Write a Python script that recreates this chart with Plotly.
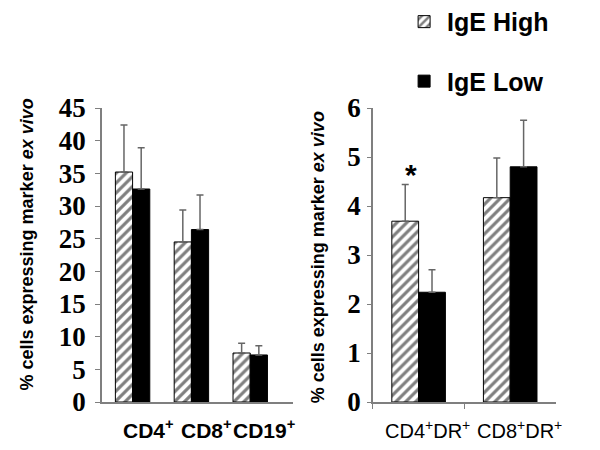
import plotly.graph_objects as go

# ---- data ----
left_categories = ["CD4+", "CD8+", "CD19+"]
left_labels = ["CD4<sup>+</sup>", "CD8<sup>+</sup>", "CD19<sup>+</sup>"]
left_high = [35.2, 24.5, 7.5]
left_high_err = [7.2, 4.9, 1.5]
left_low = [32.6, 26.4, 7.2]
left_low_err = [6.3, 5.3, 1.4]

right_categories = ["CD4+DR+", "CD8+DR+"]
right_labels = ["CD4<sup>+</sup>DR<sup>+</sup>", "CD8<sup>+</sup>DR<sup>+</sup>"]
right_high = [3.69, 4.17]
right_high_err = [0.75, 0.81]
right_low = [2.24, 4.80]
right_low_err = [0.46, 0.95]

left_ticks = [0, 5, 10, 15, 20, 25, 30, 35, 40, 45]
right_ticks = [0, 1, 2, 3, 4, 5, 6]

series_names = ["IgE High", "IgE Low"]
y_title = "% cells expressing marker <i>ex vivo</i>"

SANS = "Liberation Sans, Arial, sans-serif"
SERIF = "Liberation Serif, Times New Roman, serif"
AXC = "#7f7f7f"

hatch = dict(color="white", line=dict(color="black", width=1),
             pattern=dict(shape="/", fgcolor="black", bgcolor="white", size=7, solidity=0.45))
solid = dict(color="black", line=dict(color="black", width=1))


def err(vals):
    return dict(type="data", array=vals, arrayminus=[0] * len(vals), symmetric=False,
                color="#666666", thickness=1.5, width=3.5)


fig = go.Figure()
fig.add_trace(go.Bar(x=left_categories, y=left_high, error_y=err(left_high_err), marker=hatch,
                     name=series_names[0], legendgroup="high", showlegend=True, xaxis="x", yaxis="y"))
fig.add_trace(go.Bar(x=left_categories, y=left_low, error_y=err(left_low_err), marker=solid,
                     name=series_names[1], legendgroup="low", showlegend=True, xaxis="x", yaxis="y"))
fig.add_trace(go.Bar(x=right_categories, y=right_high, error_y=err(right_high_err), marker=hatch,
                     name=series_names[0], legendgroup="high", showlegend=False, xaxis="x2", yaxis="y2"))
fig.add_trace(go.Bar(x=right_categories, y=right_low, error_y=err(right_low_err), marker=solid,
                     name=series_names[1], legendgroup="low", showlegend=False, xaxis="x2", yaxis="y2"))

# page body has an 8px margin: target pixel positions are in viewport coordinates
OFF = 8
VL, VR, VT, VB = 101.7, 556, 108, 401.7  # plot area in viewport pixels
ML = VL - OFF
MT = VT - OFF
MR = 600 - (VR - OFF)
MB = 450 - (VB - OFF)
PW = 600 - ML - MR
PH = 450 - MT - MB

def px_x(p):
    return (p - OFF - ML) / PW

def px_y(p):
    return (450 - MB - (p - OFF)) / PH

left_shifts = [16, 15, 14]
annotations = []
for cat, lab, sh in zip(left_categories, left_labels, left_shifts):
    annotations.append(dict(x=cat, xref="x", y=0, yref="paper", yanchor="middle", yshift=-27,
                            xshift=sh, text=lab, showarrow=False,
                            font=dict(family=SANS, size=21, color="black", weight="bold")))
for cat, lab in zip(right_categories, right_labels):
    annotations.append(dict(x=cat, xref="x2", y=0, yref="paper", yanchor="middle", yshift=-27,
                            xshift=9, text=lab, showarrow=False,
                            font=dict(family=SANS, size=20, color="black")))
annotations.append(dict(x=px_x(27), xref="paper", y=px_y(244), yref="paper", text=y_title,
                        textangle=-90, showarrow=False, xanchor="center", yanchor="middle",
                        font=dict(family=SANS, size=18, color="black", weight="bold")))
annotations.append(dict(x=px_x(318), xref="paper", y=px_y(257), yref="paper", text=y_title,
                        textangle=-90, showarrow=False, xanchor="center", yanchor="middle",
                        font=dict(family=SANS, size=18, color="black", weight="bold")))
annotations.append(dict(x=right_categories[0], xref="x2", y=4.75, yref="y2", text="*",
                        xshift=-8, yshift=-5, showarrow=False, yanchor="middle",
                        font=dict(family=SANS, size=30, color="black", weight="bold")))

fig.update_layout(
    width=600, height=450,
    margin=dict(l=ML, r=MR, t=MT, b=MB, autoexpand=False),
    paper_bgcolor="white", plot_bgcolor="white",
    barmode="group", bargap=0.415, bargroupgap=0,
    xaxis=dict(domain=[0, px_x(293)], range=[-0.52, 2.73], showline=True, linecolor=AXC, linewidth=1.5,
               showticklabels=False, ticks="", showgrid=False, zeroline=False, anchor="y"),
    yaxis=dict(domain=[0, 1], range=[0, 45], tickvals=left_ticks, showline=True, linecolor=AXC,
               linewidth=1.5, ticks="outside", ticklen=5, tickcolor=AXC, showgrid=False, zeroline=False,
               ticklabelstandoff=4,
               tickfont=dict(family=SERIF, size=27, color="black", weight="bold"), anchor="x"),
    xaxis2=dict(domain=[px_x(372.7), 1], range=[-0.5, 1.5], showline=True, linecolor=AXC, linewidth=1.5,
                showticklabels=False, ticks="outside", tickson="boundaries", ticklen=5, tickcolor=AXC,
                showgrid=False, zeroline=False, anchor="y2"),
    yaxis2=dict(domain=[0, 1], range=[0, 6], tickvals=right_ticks, showline=True, linecolor=AXC,
                linewidth=1.5, ticks="outside", ticklen=4, tickcolor=AXC, showgrid=False, zeroline=False,
                ticklabelstandoff=1,
                tickfont=dict(family=SERIF, size=27, color="black", weight="bold"), anchor="x2"),
    legend=dict(x=px_x(401), y=px_y(-1), xanchor="left", yanchor="top", traceorder="grouped",
                tracegroupgap=24, itemwidth=36, bgcolor="rgba(0,0,0,0)",
                font=dict(family=SANS, size=25, color="black", weight="bold")),
    annotations=annotations,
    showlegend=True,
)

fig.write_html("out.html")
